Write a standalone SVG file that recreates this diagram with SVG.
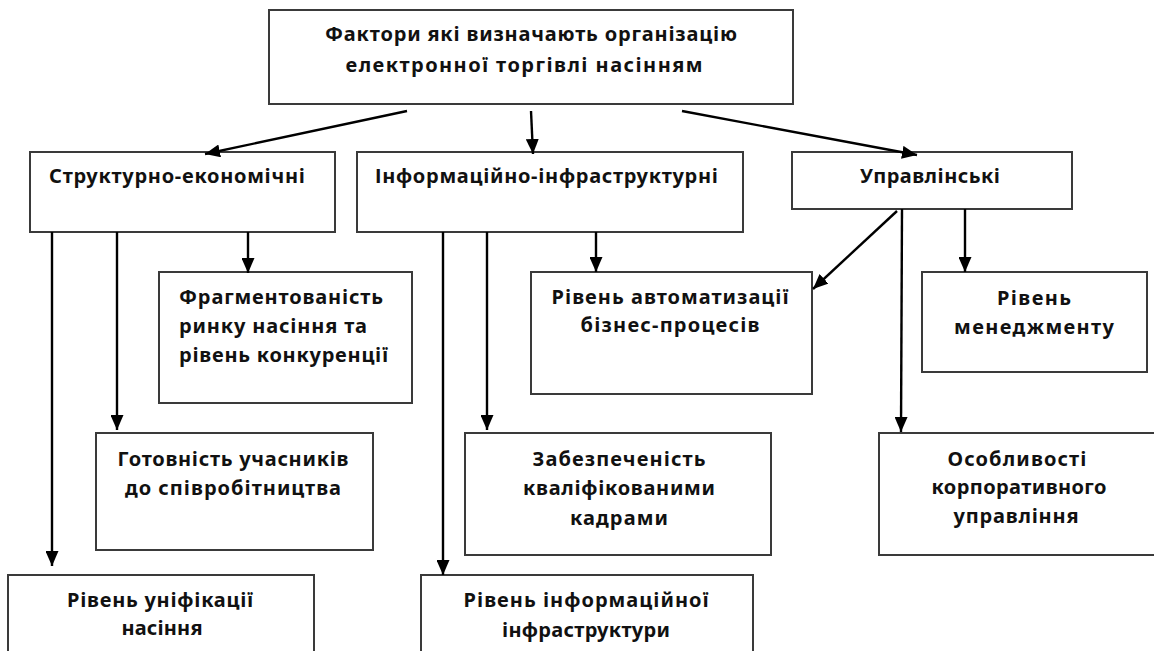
<svg xmlns="http://www.w3.org/2000/svg" width="1154" height="651" viewBox="0 0 1154 651">
<style>
.box{fill:#fff;stroke:#3a3a3a;stroke-width:2}
.t{font-family:"Noto Sans","Open Sans","Liberation Sans",sans-serif;font-weight:bold;font-size:20px;fill:#111}
.m{text-anchor:middle}
.c{fill:none;stroke:#000;stroke-width:2.4}
</style>
<defs>
<marker id="ah" markerUnits="userSpaceOnUse" markerWidth="15" markerHeight="13" refX="15" refY="6.5" orient="auto">
<path d="M0,0 L15,6.5 L0,13 z" fill="#000"/>
</marker>
</defs>
<rect width="1154" height="651" fill="#fff"/>
<g id="n-root">
<rect class="box" x="269" y="10" width="524" height="94"/>
<text class="t m" x="531" y="41" textLength="412" lengthAdjust="spacing">Фактори які визначають організацію</text>
<text class="t m" x="524" y="72" textLength="357" lengthAdjust="spacing">електронної торгівлі насінням</text>
</g>
<g id="n-struct">
<rect class="box" x="30" y="152" width="305" height="80"/>
<text class="t" x="49" y="183" textLength="256" lengthAdjust="spacing">Структурно-економічні</text>
</g>
<g id="n-info">
<rect class="box" x="357" y="152" width="386" height="80"/>
<text class="t" x="375" y="183" textLength="343" lengthAdjust="spacing">Інформаційно-інфраструктурні</text>
</g>
<g id="n-manage">
<rect class="box" x="792" y="152" width="280" height="57"/>
<text class="t m" x="930" y="183" textLength="140" lengthAdjust="spacing">Управлінські</text>
</g>
<g id="n-frag">
<rect class="box" x="159" y="272" width="253" height="131"/>
<text class="t" x="179" y="304" textLength="204" lengthAdjust="spacing">Фрагментованість</text>
<text class="t" x="179" y="333" textLength="188" lengthAdjust="spacing">ринку насіння та</text>
<text class="t" x="179" y="362" textLength="209" lengthAdjust="spacing">рівень конкуренції</text>
</g>
<g id="n-auto">
<rect class="box" x="531" y="272" width="281" height="122"/>
<text class="t m" x="670" y="304" textLength="237" lengthAdjust="spacing">Рівень автоматизації</text>
<text class="t m" x="670" y="332" textLength="179" lengthAdjust="spacing">бізнес-процесів</text>
</g>
<g id="n-mgmt">
<rect class="box" x="922" y="272" width="225" height="100"/>
<text class="t m" x="1034" y="305" textLength="74" lengthAdjust="spacing">Рівень</text>
<text class="t m" x="1034" y="334" textLength="160" lengthAdjust="spacing">менеджменту</text>
</g>
<g id="n-ready">
<rect class="box" x="96" y="433" width="277" height="117"/>
<text class="t m" x="233" y="466" textLength="231" lengthAdjust="spacing">Готовність учасників</text>
<text class="t m" x="233" y="495" textLength="216" lengthAdjust="spacing">до співробітництва</text>
</g>
<g id="n-staff">
<rect class="box" x="465" y="433" width="306" height="122"/>
<text class="t m" x="619" y="466" textLength="173" lengthAdjust="spacing">Забезпеченість</text>
<text class="t m" x="619" y="495" textLength="192" lengthAdjust="spacing">кваліфікованими</text>
<text class="t m" x="619" y="525" textLength="98" lengthAdjust="spacing">кадрами</text>
</g>
<g id="n-corp">
<rect class="box" x="879" y="433" width="285" height="122"/>
<text class="t m" x="1017" y="466" textLength="139" lengthAdjust="spacing">Особливості</text>
<text class="t m" x="1019" y="494" textLength="175" lengthAdjust="spacing">корпоративного</text>
<text class="t m" x="1016" y="523" textLength="125" lengthAdjust="spacing">управління</text>
</g>
<g id="n-unif">
<rect class="box" x="8" y="575" width="306" height="90"/>
<text class="t m" x="160" y="607" textLength="186" lengthAdjust="spacing">Рівень уніфікації</text>
<text class="t m" x="162" y="635" textLength="81" lengthAdjust="spacing">насіння</text>
</g>
<g id="n-infra">
<rect class="box" x="421" y="575" width="332" height="90"/>
<text class="t m" x="586" y="607" textLength="245" lengthAdjust="spacing">Рівень інформаційної</text>
<text class="t m" x="586" y="637" textLength="168" lengthAdjust="spacing">інфраструктури</text>
</g>
<g id="connectors">
<line class="c" x1="407" y1="111" x2="205" y2="154" marker-end="url(#ah)"/>
<line class="c" x1="531" y1="111" x2="533" y2="154" marker-end="url(#ah)"/>
<line class="c" x1="682" y1="111" x2="917" y2="155" marker-end="url(#ah)"/>
<line class="c" x1="52" y1="232" x2="52" y2="566" marker-end="url(#ah)"/>
<line class="c" x1="117" y1="232" x2="117" y2="430" marker-end="url(#ah)"/>
<line class="c" x1="248" y1="232" x2="248" y2="273" marker-end="url(#ah)"/>
<line class="c" x1="443" y1="232" x2="443" y2="575" marker-end="url(#ah)"/>
<line class="c" x1="487" y1="232" x2="487" y2="430" marker-end="url(#ah)"/>
<line class="c" x1="596" y1="232" x2="596" y2="272" marker-end="url(#ah)"/>
<line class="c" x1="897" y1="211" x2="813" y2="289" marker-end="url(#ah)"/>
<line class="c" x1="902" y1="209" x2="901" y2="432" marker-end="url(#ah)"/>
<line class="c" x1="965" y1="209" x2="965" y2="272" marker-end="url(#ah)"/>
</g>
</svg>
